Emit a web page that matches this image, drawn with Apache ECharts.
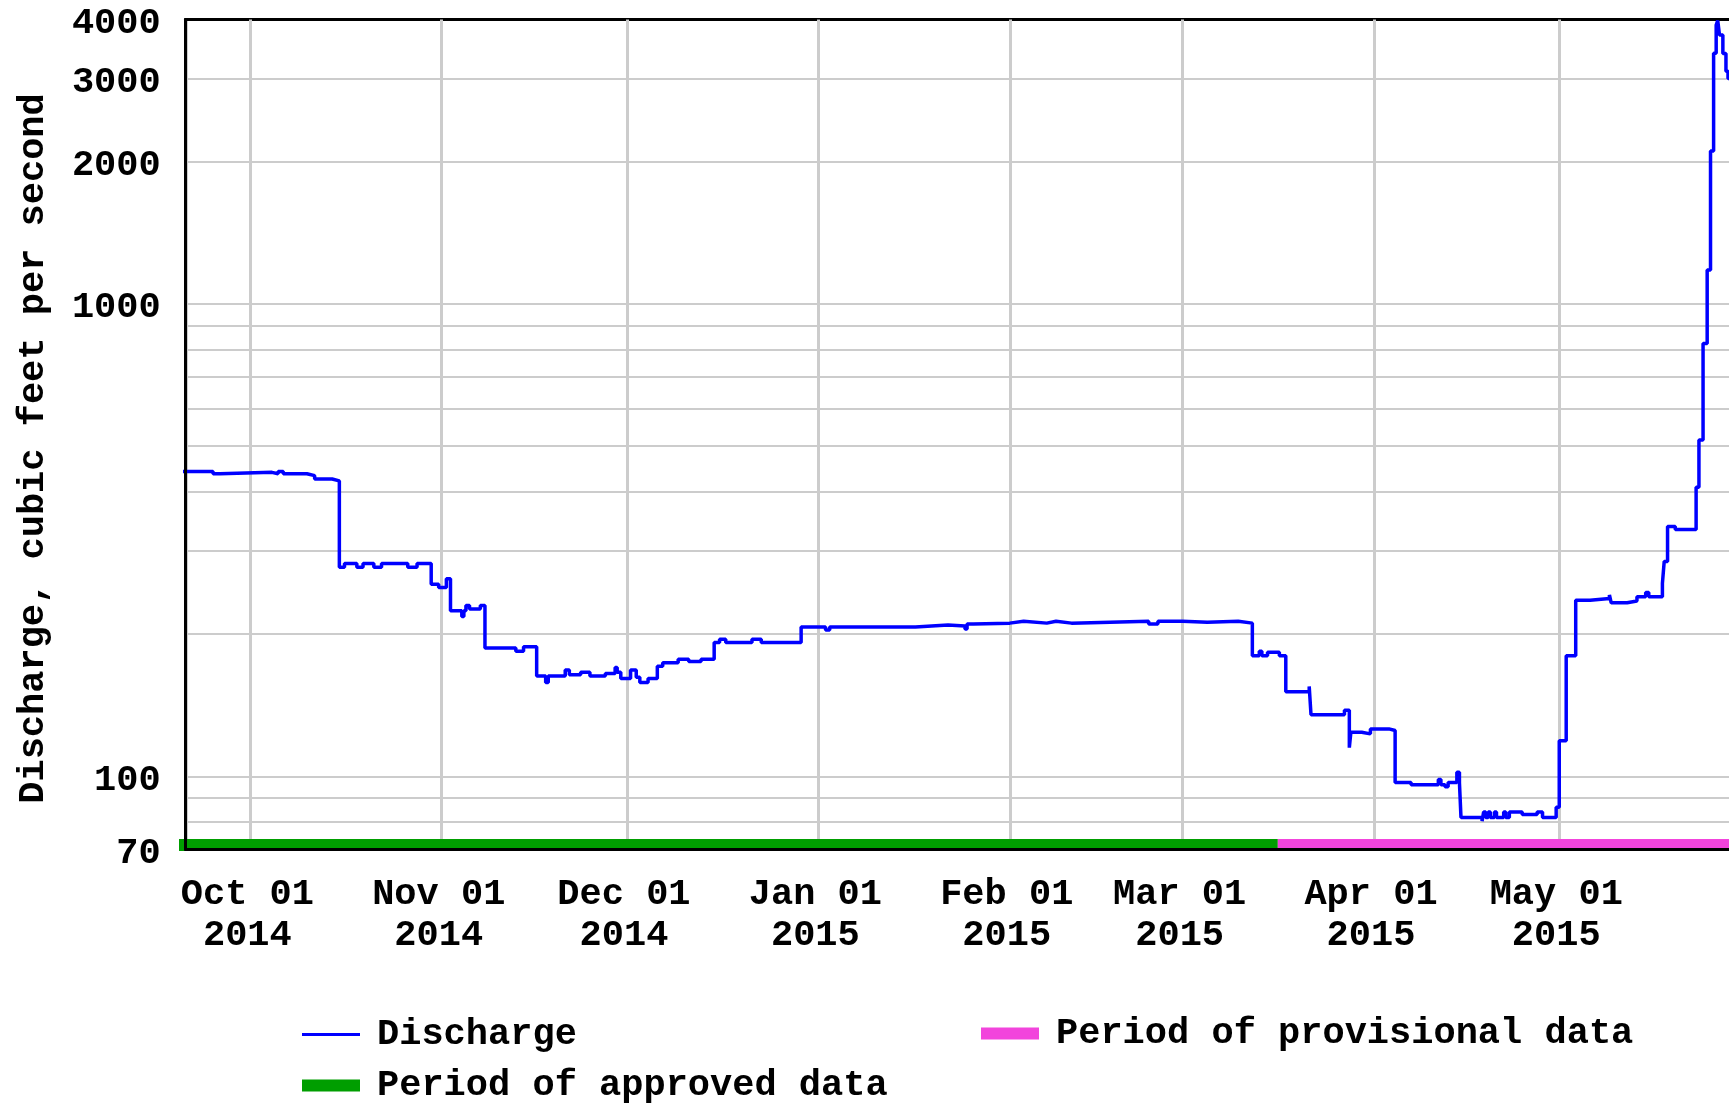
<!DOCTYPE html>
<html>
<head>
<meta charset="utf-8">
<title>Discharge</title>
<script src="https://cdn.jsdelivr.net/npm/echarts@6/dist/echarts.min.js"></script>
<style>
    html, body { margin: 0; padding: 0; background: #fff; }
    #main-chart { width: 1729px; height: 1103px; }
</style>
</head>
<body>
<div id="main-chart"></div>
<script>
// =========================================
// data (cubic feet per second)
// each point is the start of a step
// =========================================
const dischargeTimes = [
    '2014-09-20 00:00', '2014-09-24 23:00', '2014-09-26 02:00', '2014-10-04 12:00', '2014-10-05 12:00',
    '2014-10-06 08:00', '2014-10-10 04:00', '2014-10-11 10:00', '2014-10-14 06:00', '2014-10-15 10:00',
    '2014-10-16 06:00', '2014-10-18 06:00', '2014-10-19 06:00', '2014-10-21 00:00', '2014-10-22 06:00',
    '2014-10-26 12:00', '2014-10-28 00:00', '2014-10-30 07:00', '2014-10-31 12:00', '2014-11-01 18:00',
    '2014-11-02 10:00', '2014-11-04 06:00', '2014-11-04 14:00', '2014-11-04 22:00', '2014-11-05 12:00',
    '2014-11-07 06:00', '2014-11-08 00:00', '2014-11-13 00:00', '2014-11-14 06:00', '2014-11-16 09:00',
    '2014-11-17 20:00', '2014-11-18 06:00', '2014-11-21 00:00', '2014-11-21 16:00', '2014-11-23 12:00',
    '2014-11-25 00:00', '2014-11-27 12:00', '2014-11-29 02:00', '2014-11-29 10:00', '2014-11-30 00:00',
    '2014-12-01 14:00', '2014-12-02 12:00', '2014-12-03 02:00', '2014-12-04 10:00', '2014-12-05 22:00',
    '2014-12-06 19:00', '2014-12-09 07:00', '2014-12-11 00:00', '2014-12-13 00:00', '2014-12-15 03:00',
    '2014-12-16 00:00', '2014-12-17 00:00', '2014-12-21 06:00', '2014-12-22 18:00', '2014-12-29 05:00',
    '2015-01-02 04:00', '2015-01-02 20:00', '2015-01-16 17:00', '2015-01-22 00:00', '2015-01-24 18:00',
    '2015-01-25 02:00', '2015-01-26 02:00', '2015-02-01 00:00', '2015-02-03 06:00', '2015-02-07 00:00',
    '2015-02-08 12:00', '2015-02-11 00:00', '2015-02-23 12:00', '2015-02-25 00:00', '2015-03-01 00:00',
    '2015-03-05 00:00', '2015-03-10 00:00', '2015-03-12 07:00', '2015-03-13 10:00', '2015-03-13 20:00',
    '2015-03-14 18:00', '2015-03-16 16:00', '2015-03-17 17:00', '2015-03-21 12:00', '2015-03-21 19:00',
    '2015-03-27 05:00', '2015-03-28 00:00', '2015-03-28 06:00', '2015-03-30 00:00', '2015-03-31 10:00',
    '2015-04-03 10:00', '2015-04-04 10:00', '2015-04-07 00:00', '2015-04-11 10:00', '2015-04-11 20:00',
    '2015-04-12 12:00', '2015-04-13 00:00', '2015-04-14 10:00', '2015-04-14 20:00', '2015-04-15 02:00',
    '2015-04-18 12:00', '2015-04-18 18:00', '2015-04-19 02:00', '2015-04-19 12:00', '2015-04-19 20:00',
    '2015-04-20 12:00', '2015-04-20 20:00', '2015-04-22 00:00', '2015-04-22 08:00', '2015-04-22 22:00',
    '2015-04-25 00:00', '2015-04-27 10:00', '2015-04-28 07:00', '2015-04-30 12:00', '2015-05-01 00:00',
    '2015-05-02 03:00', '2015-05-03 16:00', '2015-05-06 00:00', '2015-05-09 03:00', '2015-05-09 10:00',
    '2015-05-12 00:00', '2015-05-13 14:00', '2015-05-15 00:00', '2015-05-15 12:00', '2015-05-17 17:00',
    '2015-05-18 00:00', '2015-05-18 13:00', '2015-05-19 19:00', '2015-05-23 04:00', '2015-05-23 15:00',
    '2015-05-24 07:00', '2015-05-24 23:00', '2015-05-25 12:00', '2015-05-26 00:00', '2015-05-26 10:00',
    '2015-05-26 16:00', '2015-05-26 23:00', '2015-05-27 12:00', '2015-05-28 00:00', '2015-05-28 08:00',
    '2015-05-29 00:00'
];
const dischargeValues = [
    442, 437, 440, 437, 442,
    437, 433, 426, 422, 277,
    282, 277, 282, 277, 282,
    277, 282, 255, 251, 262,
    224, 218, 224, 230, 226,
    230, 187, 184, 188, 163,
    158, 163, 168, 164, 166,
    163, 165, 170, 166, 161,
    168, 162, 158, 161, 171,
    174, 177, 175, 177, 192,
    195, 192, 195, 192, 207,
    204, 207, 209, 208, 205,
    210, 211, 213, 211, 213,
    211, 213, 210, 213, 212,
    213, 211, 180, 184, 180,
    183, 180, 151, 155, 135,
    138, 115, 124, 123, 126,
    125, 97, 96, 98.5, 96,
    95, 97, 102, 97, 81.8,
    80.4, 84, 81.8, 84, 81.8,
    84, 81.8, 84, 81.8, 84,
    83, 84, 81.8, 86, 119,
    180, 236, 238, 242, 233,
    235, 240, 245, 240, 256,
    285, 338, 333, 409, 515,
    825, 1180, 2107, 3392, 3895,
    3980, 3707, 3390, 3110, 3000,
    3000
];

// data-quality periods (start, end)
const approvedPeriod = ['2014-09-19 05:00', '2015-03-16 10:00'];
const provisionalPeriod = ['2015-03-16 10:00', '2015-05-29 00:00'];

// axis ticks
const monthTicks = ['2014-10-01', '2014-11-01', '2014-12-01', '2015-01-01',
                    '2015-02-01', '2015-03-01', '2015-04-01', '2015-05-01'];
const monthLabels = ['Oct 01\n2014', 'Nov 01\n2014', 'Dec 01\n2014', 'Jan 01\n2015',
                     'Feb 01\n2015', 'Mar 01\n2015', 'Apr 01\n2015', 'May 01\n2015'];
const yTickValues = [70, 100, 1000, 2000, 3000, 4000];
const yTickLabels = ['70', '100', '1000', '2000', '3000', '4000'];
const yGridValues = [80, 90, 100, 200, 300, 400, 500, 600, 700, 800, 900, 1000, 2000, 3000];

// =========================================
// style
// =========================================
const X_MIN = '2014-09-20 12:43';
const X_MAX = '2015-05-28 23:30';
const FONT = 'Liberation Mono';
const FONT_SIZE = 37;
const GRID_COLOR = '#cccccc';
const BAND_LEVEL = 71.55;   // band sits on the bottom of the plot

const textBase = { color: '#000', fontFamily: FONT, fontWeight: 'bold', fontSize: FONT_SIZE };

// gridlines + tick labels drawn as markLines (log axis needs 2..9 lines)
const markLines = [];
yGridValues.forEach(v => {
    markLines.push({ yAxis: v, lineStyle: { color: GRID_COLOR, width: 2, type: 'solid' }, label: { show: false } });
});
yTickValues.forEach((v, i) => {
    markLines.push({
        yAxis: v, name: yTickLabels[i],
        lineStyle: { color: 'rgba(255,255,255,0)', width: 1, type: 'solid' },
        label: { show: true, position: 'start', distance: 25, offset: [0, 4], formatter: '{b}', ...textBase }
    });
});
monthTicks.forEach((t, i) => {
    markLines.push({
        xAxis: t, name: monthLabels[i],
        lineStyle: { color: GRID_COLOR, width: 3, type: 'solid' },
        label: { show: true, position: 'start', distance: 25, formatter: '{b}', lineHeight: 41, offset: [-3, 0], ...textBase }
    });
});

const legendText = { ...textBase, padding: [0, 0, 0, 12] };
const legendCommon = { padding: 0, itemWidth: 58, icon: 'rect', selectedMode: false, textStyle: legendText };

window.addEventListener('DOMContentLoaded', () => {
    const chart = echarts.init(document.getElementById('main-chart'));

    chart.setOption({
        animation: false,
        backgroundColor: '#fff',
        grid: {
            left: 185.7, top: 19.5, right: -3, bottom: 253.5,
            show: true, borderColor: '#000', borderWidth: 3,
            outerBoundsMode: 'none'
        },
        legend: [
            { ...legendCommon, data: ['Discharge'], left: 302, top: 1016, itemHeight: 3 },
            { ...legendCommon, data: ['Period of approved data'], left: 302, top: 1067, itemHeight: 12 },
            { ...legendCommon, data: ['Period of provisional data'], left: 981, top: 1015, itemHeight: 12 }
        ],
        xAxis: {
            type: 'time',
            min: X_MIN,
            max: X_MAX,
            z: 5,
            axisLine: { show: true, lineStyle: { color: '#000', width: 3 } },
            axisTick: { show: false },
            axisLabel: { show: false },
            splitLine: { show: false }
        },
        yAxis: {
            type: 'log',
            min: 70,
            max: 4000,
            z: 5,
            name: 'Discharge, cubic feet per second',
            nameLocation: 'middle',
            nameRotate: 90,
            nameGap: 134,
            nameTextStyle: { ...textBase, padding: [0, 28, 0, 0] },
            axisLine: { show: true, onZero: false, lineStyle: { color: '#000', width: 3 } },
            axisTick: { show: false },
            axisLabel: { show: false },
            splitLine: { show: false },
            minorSplitLine: { show: false }
        },
        series: [
            {
                name: 'Discharge',
                type: 'line',
                step: 'end',
                symbol: 'none',
                z: 3,
                data: dischargeTimes.map((t, i) => [t, dischargeValues[i]]),
                lineStyle: { color: '#0000ff', width: 3.5 },
                itemStyle: { color: '#0000ff' },
                markLine: {
                    z: 1,
                    silent: true,
                    symbol: ['none', 'none'],
                    animation: false,
                    data: markLines
                }
            },
            {
                name: 'Period of approved data',
                type: 'line',
                symbol: 'none',
                clip: false,
                z: 2,
                data: approvedPeriod.map(t => [t, BAND_LEVEL]),
                lineStyle: { color: '#009e00', width: 12, cap: 'butt' },
                itemStyle: { color: '#009e00' }
            },
            {
                name: 'Period of provisional data',
                type: 'line',
                symbol: 'none',
                clip: false,
                z: 2,
                data: provisionalPeriod.map(t => [t, BAND_LEVEL]),
                lineStyle: { color: '#f244dc', width: 12, cap: 'butt' },
                itemStyle: { color: '#f244dc' }
            }
        ]
    });

    window.addEventListener('resize', () => chart.resize());
});
</script>
</body>
</html>
